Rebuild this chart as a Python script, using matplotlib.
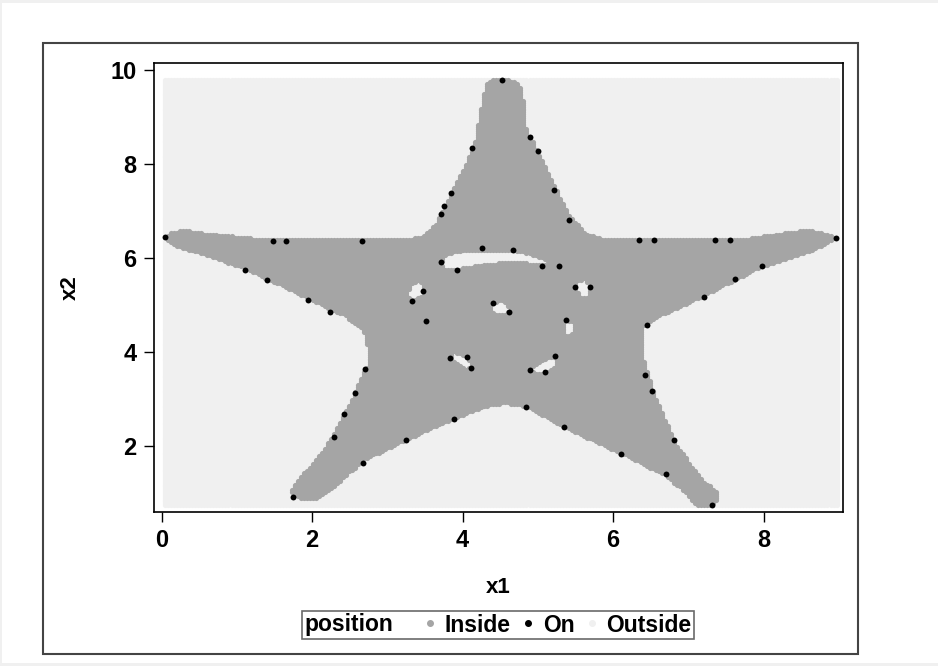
import numpy as np
import matplotlib
matplotlib.use("Agg")
import matplotlib.pyplot as plt
from matplotlib.path import Path
from matplotlib.lines import Line2D
from matplotlib.patches import Rectangle
from matplotlib.offsetbox import HPacker

plt.rcParams['font.family'] = ['Liberation Sans', 'DejaVu Sans']
plt.rcParams['font.weight'] = 'bold'

# star outline (x1, x2)
star_x = [4.55, 4.70, 4.80, 4.84, 4.98, 5.20, 5.42, 5.64, 5.85, 7.70, 7.89, 8.24, 8.55, 8.77, 8.95,
          8.85, 8.60, 8.30, 7.98, 7.62, 7.18, 7.10, 6.65, 6.40, 6.38, 6.40, 6.43, 6.56, 6.83, 7.18,
          7.40, 7.36, 7.25, 7.10, 6.96, 6.70, 6.08, 5.33, 4.84, 4.58, 4.36, 3.83, 3.25, 2.68, 2.24,
          2.02, 1.84, 1.71, 1.80, 2.02, 2.24, 2.46, 2.70, 2.73, 2.74, 2.68, 2.41, 1.93, 1.62, 1.09,
          0.65, 0.21, 0.05, 0.12, 0.29, 0.74, 1.18, 3.30, 3.47, 3.65, 3.85, 4.16, 4.25, 4.31, 4.40]
star_y = [9.80, 9.77, 9.57, 8.79, 8.30, 7.59, 6.88, 6.53, 6.40, 6.40, 6.43, 6.53, 6.60, 6.56, 6.43,
          6.32, 6.12, 5.98, 5.82, 5.53, 5.18, 5.11, 4.79, 4.55, 4.45, 3.83, 3.69, 3.05, 2.06, 1.28,
          1.00, 0.78, 0.70, 0.72, 1.00, 1.38, 1.85, 2.41, 2.84, 2.92, 2.87, 2.55, 2.13, 1.70, 1.06,
          0.87, 0.87, 1.03, 1.28, 1.64, 2.13, 2.77, 3.62, 3.69, 4.11, 4.47, 4.79, 5.15, 5.39, 5.79,
          6.03, 6.24, 6.42, 6.54, 6.60, 6.50, 6.42, 6.40, 6.45, 6.74, 7.38, 8.37, 9.22, 9.68, 9.78]

# holes inside the star
arc_x = [3.74, 3.92, 4.27, 4.67, 4.93, 5.15, 5.20, 4.97, 4.71, 4.36, 4.00, 3.78, 3.72]
arc_y = [6.03, 6.13, 6.18, 6.16, 6.06, 5.92, 5.85, 5.89, 5.92, 5.89, 5.78, 5.74, 5.85]
hole_l_x = [3.30, 3.41, 3.48, 3.48, 3.39, 3.29, 3.28]
hole_l_y = [5.39, 5.52, 5.43, 5.25, 5.11, 5.14, 5.28]
hole_r_x = [5.52, 5.63, 5.69, 5.67, 5.58, 5.51]
hole_r_y = [5.53, 5.55, 5.39, 5.18, 5.14, 5.32]
hole_c_x = [4.41, 4.56, 4.63, 4.56, 4.43, 4.39]
hole_c_y = [5.05, 5.07, 4.91, 4.79, 4.79, 4.93]
hole_rl_x = [5.36, 5.46, 5.48, 5.43, 5.34, 5.33]
hole_rl_y = [4.67, 4.65, 4.47, 4.34, 4.36, 4.54]
hole_ll_x = [3.88, 4.06, 4.12, 4.03, 3.90, 3.86]
hole_ll_y = [3.99, 3.91, 3.69, 3.65, 3.79, 3.91]
hole_lr_x = [4.90, 5.12, 5.23, 5.22, 5.10, 4.94]
hole_lr_y = [3.63, 3.87, 3.90, 3.69, 3.58, 3.58]

# points lying on the boundary
on_x = [4.53, 5.28, 3.51, 4.62, 4.41, 3.47, 3.33, 5.69, 5.50, 5.38, 3.84, 4.11, 4.06, 5.23, 4.89,
        5.10, 4.26, 4.67, 3.72, 3.92, 5.06, 1.48, 1.66, 2.67, 0.05, 1.11, 1.40, 1.95, 4.13, 3.85,
        3.76, 3.72, 4.90, 5.00, 5.22, 5.42, 6.34, 6.54, 7.35, 7.55, 8.96, 7.98, 7.62, 7.21, 2.24,
        2.70, 2.57, 2.43, 2.29, 1.75, 2.68, 3.25, 3.89, 6.45, 6.42, 6.52, 6.81, 6.70, 6.10, 5.35,
        4.84, 7.31]
on_y = [9.79, 5.83, 4.67, 4.86, 5.05, 5.30, 5.09, 5.39, 5.38, 4.68, 3.88, 3.67, 3.90, 3.91, 3.62,
        3.58, 6.21, 6.16, 5.92, 5.74, 5.82, 6.37, 6.37, 6.37, 6.44, 5.74, 5.53, 5.11, 8.33, 7.38,
        7.11, 6.94, 8.57, 8.28, 7.45, 6.81, 6.38, 6.38, 6.38, 6.38, 6.42, 5.82, 5.55, 5.18, 4.86,
        3.63, 3.13, 2.68, 2.20, 0.92, 1.63, 2.13, 2.57, 4.57, 3.51, 3.16, 2.13, 1.40, 1.84, 2.41,
        2.84, 0.74]

# evaluation grid
gx = np.arange(0.05, 8.975, 0.04)
gy = np.arange(0.74, 9.79, 0.04)
X, Y = np.meshgrid(gx, gy)
pts = np.column_stack([X.ravel(), Y.ravel()])

inside = Path(np.column_stack([star_x, star_y])).contains_points(pts)
for hx, hy in [(arc_x, arc_y), (hole_l_x, hole_l_y), (hole_r_x, hole_r_y), (hole_c_x, hole_c_y),
               (hole_rl_x, hole_rl_y), (hole_ll_x, hole_ll_y), (hole_lr_x, hole_lr_y)]:
    inside &= ~Path(np.column_stack([hx, hy])).contains_points(pts)

c_in = '#a5a5a5'
c_out = '#f0f0f0'

fig = plt.figure(figsize=(9.38, 6.66), dpi=100, facecolor=c_out)
fig.patches.append(Rectangle((2/938, 3/666), 1, 660/666, transform=fig.transFigure,
                             facecolor='white', edgecolor='none', zorder=-2))
fig.patches.append(Rectangle((43/938, 12/666), 815/938, 611/666, transform=fig.transFigure,
                             facecolor='none', edgecolor='#444444', lw=1.5, zorder=-1))

ax = fig.add_axes([154/938, 154/666, 689/938, 449/666])
ax.set_zorder(2)
ax.scatter(pts[~inside, 0], pts[~inside, 1], s=14, c=c_out, marker='o', linewidths=0)
ax.scatter(pts[inside, 0], pts[inside, 1], s=14, c=c_in, marker='o', linewidths=0)
ax.scatter(on_x, on_y, s=18, c='black', marker='o', linewidths=0, zorder=3)

ax.set_xlim(-0.10, 9.056)
ax.set_ylim(0.596, 10.149)
ax.set_xticks([0, 2, 4, 6, 8])
ax.set_yticks([2, 4, 6, 8, 10])
ax.tick_params(direction='out', length=7.5, width=1, labelsize=17, pad=5)
for lab in ax.get_xticklabels() + ax.get_yticklabels():
    lab.set_fontweight('bold')
for sp in ax.spines.values():
    sp.set_linewidth(1.2)
ax.set_xlabel('x1', fontsize=16, fontweight='bold', labelpad=18)
ax.set_ylabel('x2', fontsize=16, fontweight='bold', labelpad=21)

handles = [Line2D([], [], linestyle='none', marker='o', markersize=4, color=c_in, label='Inside'),
           Line2D([], [], linestyle='none', marker='o', markersize=4, color='black', label='On'),
           Line2D([], [], linestyle='none', marker='o', markersize=4, color=c_out, label='Outside')]
leg = fig.legend(handles=handles, loc='center', bbox_to_anchor=(498/938, 1 - 625/666), ncol=3,
                 title='position', title_fontproperties={'size': 16.5, 'weight': 'bold'},
                 frameon=True, fancybox=False, edgecolor='#444444', fontsize=16.5,
                 handlelength=0.3, handletextpad=0.5, columnspacing=0.6,
                 borderpad=0.12, borderaxespad=0)
leg.get_frame().set_linewidth(1.2)
for t in leg.get_texts():
    t.set_fontweight('bold')

# put the legend title on the same row as the entries
try:
    old = leg._legend_box
    row = HPacker(pad=old.pad, sep=24, align='center', children=old.get_children())
    row.set_figure(fig)
    row.set_offset(leg._findoffset)
    leg._legend_box = row
except Exception:
    pass

fig.savefig('out.png', dpi=100, facecolor=fig.get_facecolor())
